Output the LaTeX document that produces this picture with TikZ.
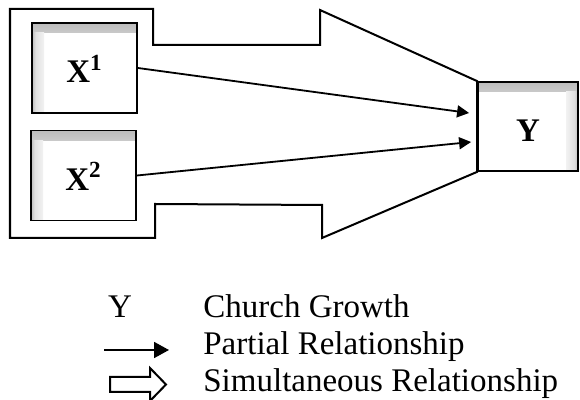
\documentclass[tikz,border=0pt]{standalone}
\usepackage{fontspec}
\setmainfont{Liberation Serif}
\usepackage{tikz}
\usetikzlibrary{positioning}
\usetikzlibrary{arrows.meta}
\pgfdeclarelayer{nodelayer}
\pgfdeclarelayer{edgelayer}
\pgfsetlayers{nodelayer,edgelayer,main}
\pgfdeclareverticalshading{topfade}{100bp}{color(0bp)=(white); color(60bp)=(black!12); color(100bp)=(black!50)}
\pgfdeclarehorizontalshading{leftfade}{100bp}{color(0bp)=(black!50); color(40bp)=(black!12); color(100bp)=(white)}
\pgfdeclarehorizontalshading{rightfade}{100bp}{color(0bp)=(white); color(60bp)=(black!12); color(100bp)=(black!50)}
\tikzset{
  varbox/.style={draw, line width=0.9pt, inner sep=0pt, minimum width=52.5pt, minimum height=45pt,
    text height=15pt, font=\fontsize{16.5}{19}\selectfont\bfseries},
  shadetopleft/.style={path picture={
    \shade[shading=topfade] (path picture bounding box.north west) rectangle ([yshift=-5pt]path picture bounding box.north east);
    \shade[shading=leftfade] (path picture bounding box.south west) rectangle ([xshift=6pt, yshift=-5pt]path picture bounding box.north west);}},
  shadetopright/.style={path picture={
    \shade[shading=topfade] (path picture bounding box.north west) rectangle ([yshift=-5pt]path picture bounding box.north east);
    \shade[shading=rightfade] (path picture bounding box.south east) rectangle ([xshift=-6pt, yshift=-5pt]path picture bounding box.north east);}},
  partial/.style={line width=0.9pt, -{Triangle[length=6pt,width=6pt]}},
  legendtext/.style={anchor=base west, inner sep=0pt, font=\fontsize{16.5}{19}\selectfont},
}

\begin{document}
\begin{tikzpicture}[x=0.5pt, y=-0.5pt]
  \useasboundingbox (0, 0) rectangle (580, 400);
  \begin{pgfonlayer}{nodelayer}
    \node [varbox, shadetopleft] (0) at (84.5, 68) {X\textsuperscript{1}};
    \node [varbox, shadetopleft] (1) at (83.5, 175.5) {X\textsuperscript{2}};
    \node [varbox, shadetopright, minimum width=50pt, minimum height=44.5pt] (2) at (528, 126.5) {Y};
    \node [anchor=base, inner sep=0pt, font=\fontsize{16.5}{19}\selectfont] (3) at (120, 318) {Y};
    \node [legendtext] (4) at (203, 318) {Church Growth};
    \node [legendtext] (5) at (203, 355) {Partial Relationship};
    \node [legendtext] (6) at (203, 392) {Simultaneous Relationship};
    \coordinate (7) at (104, 350);
    \coordinate (8) at (169, 350);
  \end{pgfonlayer}
  \begin{pgfonlayer}{edgelayer}
    \draw [line width=1pt, line join=miter] (10, 9) -- (153, 9) -- (153, 45) -- (320, 45) -- (320, 10)
      -- (2.north west) -- (2.south west) -- (322, 238) -- (322, 205) -- (155, 204) -- (155, 238)
      -- (10, 238) -- cycle;
    \draw [partial] (0.east) to ([xshift=-4pt, yshift=6.75pt]2.west);
    \draw [partial] (1.east) to ([xshift=-3pt, yshift=-7.75pt]2.west);
    \draw [line width=0.9pt, -{Triangle[length=7.5pt,width=8pt]}] (7) to (8);
    \draw [line width=1pt] (110, 377) -- (150, 377) -- (150, 368) -- (166, 384.5) -- (150, 401)
      -- (150, 392) -- (110, 392) -- cycle;
  \end{pgfonlayer}
\end{tikzpicture}
\end{document}
